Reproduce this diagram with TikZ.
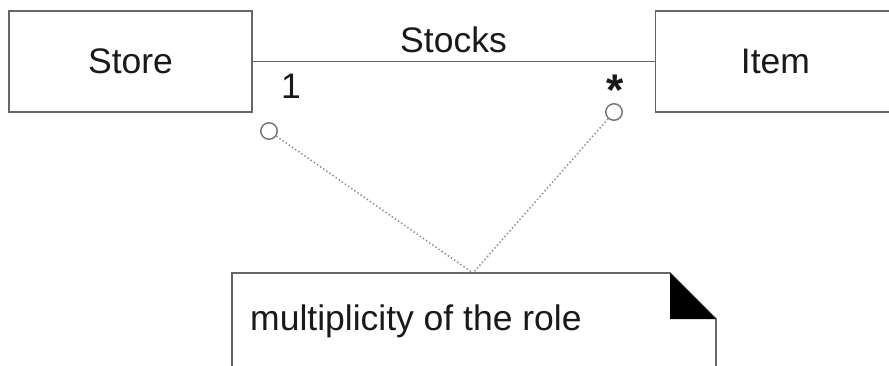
\documentclass[tikz,border=0pt]{standalone}
\usepackage{fontspec}
\setmainfont{Liberation Sans}
\begin{document}
\begin{tikzpicture}[x=1pt,y=-1pt,
  lbl/.style={font=\fontsize{35.5}{40}\selectfont, text=black!90, inner sep=0pt},
  umlbox/.style={draw=black!60, line width=1.6pt, rectangle, inner sep=0pt, font=\fontsize{35.5}{40}\selectfont, text=black!90},
  role/.style={circle, draw=black!55, line width=1.4pt, minimum size=16.5pt, inner sep=0pt},
  notelink/.style={draw=black!45, line width=1.5pt, dash pattern=on 1.4pt off 2.4pt}]
\useasboundingbox (0,0) rectangle (889,365);
\clip (0,0) rectangle (889,365);
% classes
\node[umlbox, minimum width=243pt, minimum height=101pt] (store) at (130.5,61.5) {Store};
\node[umlbox, minimum width=240pt, minimum height=101pt] (item) at (775.5,61.5) {Item};
\draw[draw=black!60, line width=1.6pt] (store.east) -- (item.west);
% labels
\node[lbl, anchor=base] (stocks) at (453.5,52) {Stocks};
\node[lbl, anchor=base] (one) at (291,98) {1};
\node[lbl, anchor=north, font=\fontsize{35.5}{40}\selectfont\bfseries, scale=1.25] (many) at (615,75) {*};
% role markers
\node[role] (c1) at (269,131) {};
\node[role] (c2) at (614,112) {};
% note
\coordinate (nt) at (473,273);
\draw[draw=black!60, line width=1.6pt] (232,380) -- (232,273) -- (670,273) -- (716,319) -- (716,380);
\fill[black] (670,273) -- (670,319) -- (716,319) -- cycle;
\node[lbl, anchor=base west] (notetext) at (250,330) {multiplicity of the role};
% links
\draw[notelink] (c1) -- (nt);
\draw[notelink] (c2) -- (nt);
\end{tikzpicture}
\end{document}
